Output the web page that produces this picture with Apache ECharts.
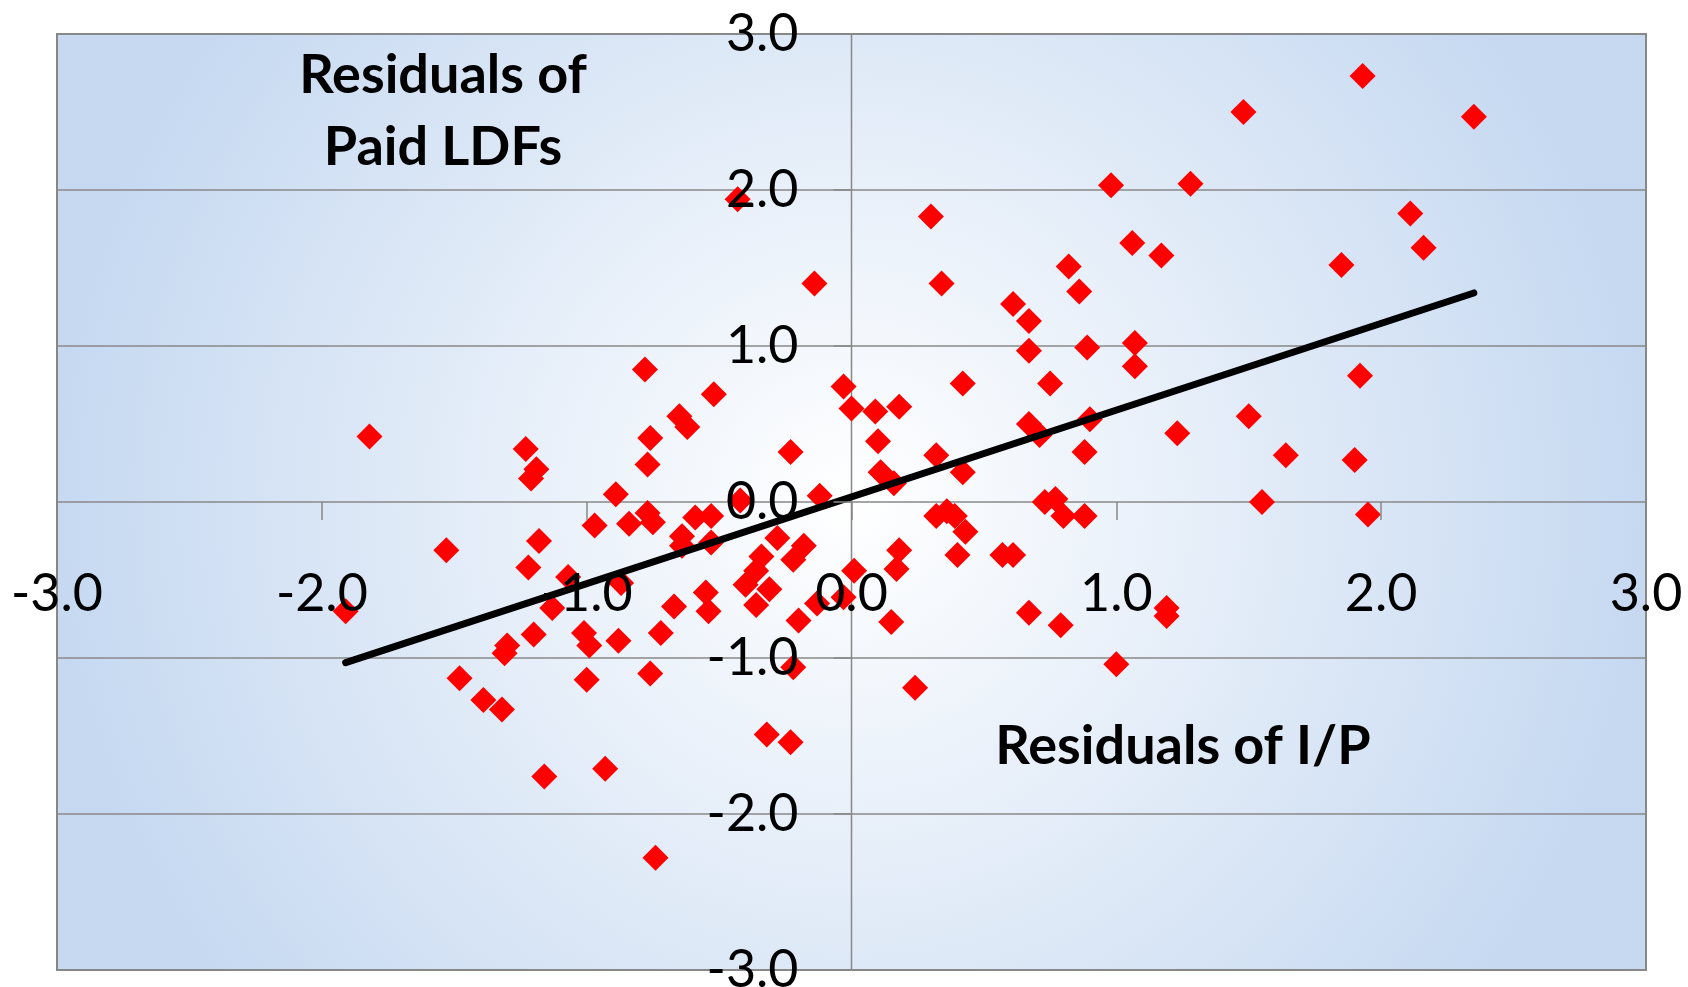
<!DOCTYPE html>
<html>
<head>
<meta charset="utf-8">
<script src="https://cdn.jsdelivr.net/npm/echarts@6.0.0/dist/echarts.min.js"></script>
<style>
  html, body { margin: 0; padding: 0; background: #ffffff; }
  #chart { width: 1688px; height: 987px; }
</style>
</head>
<body>
<div id="chart"></div>
<script>
// Residuals of I/P (x) against residuals of paid LDFs (y), one entry per observation
const ipResiduals = [
  -1.82, -1.91, -1.53, -1.48, -1.39, -1.32, -1.30, -1.31, -1.23, -1.21,
  -1.19, -1.18, -1.22, -1.20, -1.16, -1.13, -1.07, -1.01, -0.99, -1.00,
  -0.97, -0.93, -0.89, -0.88, -0.87, -0.84, -0.78, -0.76, -0.77, -0.77,
  -0.75, -0.76, -0.74, -0.72, -0.67, -0.65, -0.62, -0.64, -0.64, -0.59,
  -0.53, -0.53, -0.52, -0.55, -0.54, -0.43, -0.42, -0.40, -0.36, -0.34,
  -0.36, -0.31, -0.32, -0.28, -0.23, -0.23, -0.22, -0.22, -0.18, -0.20,
  -0.14, -0.13, -0.12, -0.03, -0.03, 0.00, 0.01, 0.09, 0.10, 0.11,
  0.16, 0.18, 0.18, 0.17, 0.15, 0.24, 0.30, 0.32, 0.34, 0.32,
  0.36, 0.39, 0.42, 0.42, 0.43, 0.40, 0.57, 0.61, 0.61, 0.67,
  0.67, 0.67, 0.71, 0.67, 0.73, 0.77, 0.80, 0.75, 0.79, 0.82,
  0.86, 0.89, 0.90, 0.88, 0.88, 0.98, 1.00, 1.06, 1.07, 1.07,
  1.17, 1.19, 1.19, 1.23, 1.28, 1.48, 1.50, 1.55, 1.64, 1.85,
  1.90, 1.92, 1.93, 1.95, 2.11, 2.16, 2.35
];
const ldfResiduals = [
  0.42, -0.70, -0.31, -1.13, -1.27, -1.33, -0.92, -0.97, 0.34, 0.15,
  0.21, -0.25, -0.42, -0.85, -1.76, -0.68, -0.48, -0.84, -0.92, -1.14,
  -0.15, -1.71, 0.05, -0.89, -0.52, -0.14, 0.85, 0.41, 0.24, -0.07,
  -0.13, -1.10, -2.28, -0.84, -0.67, 0.55, 0.48, -0.22, -0.28, -0.10,
  -0.09, -0.26, 0.69, -0.58, -0.70, 1.94, 0.01, -0.53, -0.44, -0.35,
  -0.66, -0.56, -1.49, -0.23, 0.32, -1.54, -0.37, -1.06, -0.28, -0.76,
  1.40, -0.65, 0.04, 0.74, -0.61, 0.60, -0.44, 0.58, 0.39, 0.19,
  0.12, 0.61, -0.31, -0.43, -0.77, -1.19, 1.83, 0.30, 1.40, -0.09,
  -0.06, -0.09, 0.76, 0.19, -0.19, -0.34, -0.34, -0.34, 1.27, 1.16,
  0.97, 0.50, 0.43, -0.71, 0.00, 0.02, -0.09, 0.76, -0.79, 1.51,
  1.35, 0.99, 0.53, 0.32, -0.09, 2.03, -1.04, 1.66, 1.02, 0.87,
  1.58, -0.68, -0.73, 0.44, 2.04, 2.50, 0.55, 0.00, 0.30, 1.52,
  0.27, 0.81, 2.73, -0.08, 1.85, 1.63, 2.47
];

// Linear trend line endpoints
const trendX = [-1.91, 2.35];
const trendY = [-1.03, 1.34];

// Axis ticks (both axes share the same range)
const axisTicks = [-3, -2, -1, 0, 1, 2, 3];

const xTitle = 'Residuals of I/P';
const yTitle = 'Residuals of\nPaid LDFs';

const points = ipResiduals.map((x, i) => [x, ldfResiduals[i]]);
const trend = trendX.map((x, i) => [x, trendY[i]]);

const axisMin = axisTicks[0];
const axisMax = axisTicks[axisTicks.length - 1];
const step = axisTicks[1] - axisTicks[0];
// vertical axis line through x = 0
const zeroLine = [[0, axisMin], [0, axisMax]];

const gridColor = '#888888';
const labelFont = { fontFamily: 'Lato', fontSize: 52, color: '#000000', lineHeight: 52 };
const fmt = v => v.toFixed(1);

// Front axes (index 0): ticks and labels drawn above the markers;
// shifted onto the zero lines after the first layout pass
function frontAxis(isX) {
  return {
    type: 'value',
    position: isX ? 'bottom' : 'left',
    min: axisMin, max: axisMax, interval: step,
    z: 10,
    offset: 0,
    axisLine: { show: true, onZero: false, lineStyle: { color: gridColor, width: 1.5, opacity: 0 } },
    axisTick: { show: true, inside: false, length: 18,
      lineStyle: { color: gridColor, width: 1.5 } },
    splitLine: { show: false },
    axisLabel: Object.assign({
      show: true,
      margin: isX ? 66 : 53,
      showMinLabel: true,
      showMaxLabel: true,
      hideOverlap: false,
      formatter: fmt
    }, labelFont)
  };
}

// Back axes (index 1): horizontal gridlines beneath the markers
function backAxis(isX) {
  return {
    type: 'value',
    position: isX ? 'top' : 'right',
    min: axisMin, max: axisMax, interval: step,
    z: 0,
    axisLine: { show: false, onZero: false },
    axisTick: { show: false },
    axisLabel: { show: false },
    splitLine: { show: !isX, lineStyle: { color: gridColor, width: 1.5 } }
  };
}

const chart = echarts.init(document.getElementById('chart'), null, { renderer: 'canvas' });

chart.setOption({
  animation: false,
  backgroundColor: '#ffffff',
  grid: {
    left: 57, top: 34, width: 1589, height: 936,
    show: true,
    borderColor: '#878787',
    borderWidth: 2,
    outerBoundsMode: 'none',
    backgroundColor: {
      type: 'radial', x: 0.5, y: 0.5, r: 0.85,
      colorStops: [
        { offset: 0, color: '#ffffff' },
        { offset: 1, color: '#c6d9f1' }
      ]
    }
  },
  xAxis: [frontAxis(true), backAxis(true)],
  yAxis: [frontAxis(false), backAxis(false)],
  series: [
    {
      type: 'line',
      xAxisIndex: 1, yAxisIndex: 1,
      z: 1,
      symbol: 'none',
      silent: true,
      lineStyle: { color: gridColor, width: 1.5 },
      data: zeroLine
    },
    {
      type: 'scatter',
      xAxisIndex: 1, yAxisIndex: 1,
      z: 2,
      symbol: 'diamond',
      symbolSize: 26,
      itemStyle: { color: '#ff0000', opacity: 1 },
      data: points
    },
    {
      type: 'line',
      xAxisIndex: 1, yAxisIndex: 1,
      z: 3,
      symbol: 'none',
      lineStyle: { color: '#000000', width: 7, cap: 'round' },
      data: trend
    }
  ],
  graphic: [
    {
      type: 'text', z: 20,
      x: 443, y: 112,
      style: {
        text: yTitle,
        font: 'bold 54px Lato',
        fill: '#000000',
        align: 'center',
        verticalAlign: 'middle',
        lineHeight: 72
      }
    },
    {
      type: 'text', z: 20,
      x: 1183, y: 747,
      style: {
        text: xTitle,
        font: 'bold 54px Lato',
        fill: '#000000',
        align: 'center',
        verticalAlign: 'middle'
      }
    }
  ]
});

// Move the labelled axes so they cross at the origin
const origin = chart.convertToPixel({ xAxisIndex: 1, yAxisIndex: 1 }, [0, 0]);
const corner = chart.convertToPixel({ xAxisIndex: 1, yAxisIndex: 1 }, [axisMin, axisMin]);
chart.setOption({
  xAxis: [{ offset: -(corner[1] - origin[1]) }, {}],
  yAxis: [{ offset: -(origin[0] - corner[0]) }, {}]
});
</script>
</body>
</html>
